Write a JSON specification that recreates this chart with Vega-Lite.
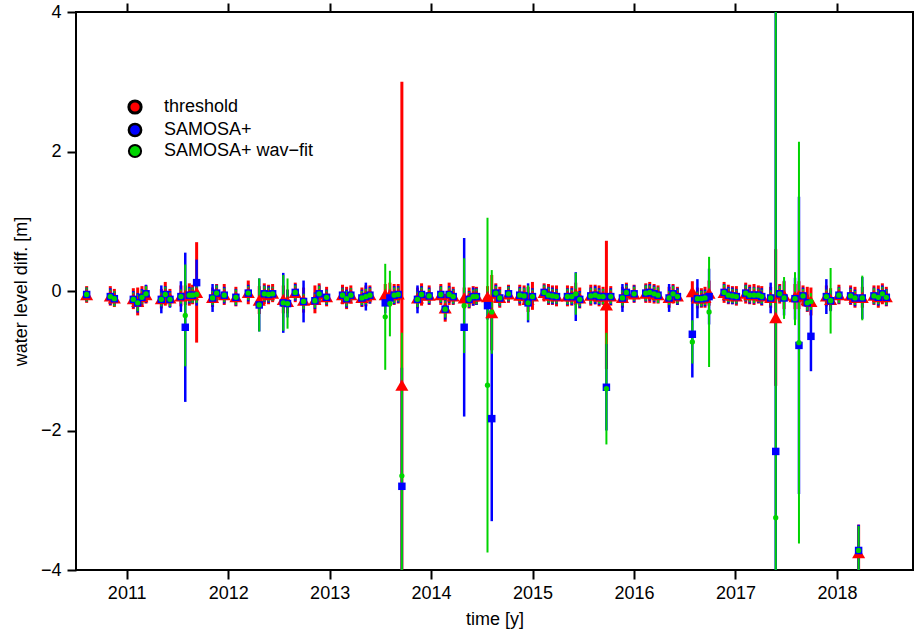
{
"$schema":"https://vega.github.io/schema/vega-lite/v6.json",
"width":837,"height":558,
"autosize":{"type":"none"},
"padding":{"left":76,"top":12,"right":2,"bottom":68},
"background":"white",
"config":{"view":{"stroke":"black","strokeWidth":2},"font":"Liberation Sans",
 "axis":{"labelFont":"Liberation Sans","titleFont":"Liberation Sans","labelFontSize":18,"titleFontSize":18,"titleFontWeight":"normal","labelColor":"black","titleColor":"black","tickColor":"black","tickWidth":2,"tickSize":9,"domain":false,"grid":false}},
"data":{"values":[
{"t":2010.605,"s":"threshold","v":-0.05,"lo":-0.17,"hi":0.07},
{"t":2010.838,"s":"threshold","v":-0.07,"lo":-0.21,"hi":0.07},
{"t":2010.878,"s":"threshold","v":-0.10,"lo":-0.23,"hi":0.03},
{"t":2011.065,"s":"threshold","v":-0.11,"lo":-0.26,"hi":0.04},
{"t":2011.108,"s":"threshold","v":-0.15,"lo":-0.35,"hi":0.05},
{"t":2011.150,"s":"threshold","v":-0.08,"lo":-0.23,"hi":0.07},
{"t":2011.190,"s":"threshold","v":-0.05,"lo":-0.18,"hi":0.08},
{"t":2011.341,"s":"threshold","v":-0.11,"lo":-0.25,"hi":0.03},
{"t":2011.380,"s":"threshold","v":-0.04,"lo":-0.21,"hi":0.13},
{"t":2011.426,"s":"threshold","v":-0.10,"lo":-0.23,"hi":0.03},
{"t":2011.534,"s":"threshold","v":-0.07,"lo":-0.22,"hi":0.08},
{"t":2011.577,"s":"threshold","v":-0.06,"lo":-0.20,"hi":0.08},
{"t":2011.617,"s":"threshold","v":-0.05,"lo":-0.21,"hi":0.11},
{"t":2011.649,"s":"threshold","v":-0.05,"lo":-0.19,"hi":0.09},
{"t":2011.689,"s":"threshold","v":-0.02,"lo":-0.74,"hi":0.70},
{"t":2011.846,"s":"threshold","v":-0.09,"lo":-0.23,"hi":0.05},
{"t":2011.886,"s":"threshold","v":-0.03,"lo":-0.16,"hi":0.10},
{"t":2011.961,"s":"threshold","v":-0.05,"lo":-0.20,"hi":0.10},
{"t":2012.076,"s":"threshold","v":-0.08,"lo":-0.22,"hi":0.06},
{"t":2012.198,"s":"threshold","v":-0.02,"lo":-0.19,"hi":0.15},
{"t":2012.306,"s":"threshold","v":-0.13,"lo":-0.33,"hi":0.07},
{"t":2012.356,"s":"threshold","v":-0.04,"lo":-0.19,"hi":0.11},
{"t":2012.398,"s":"threshold","v":-0.05,"lo":-0.19,"hi":0.09},
{"t":2012.438,"s":"threshold","v":-0.03,"lo":-0.16,"hi":0.10},
{"t":2012.543,"s":"threshold","v":-0.12,"lo":-0.32,"hi":0.08},
{"t":2012.585,"s":"threshold","v":-0.15,"lo":-0.32,"hi":0.02},
{"t":2012.661,"s":"threshold","v":-0.02,"lo":-0.16,"hi":0.12},
{"t":2012.743,"s":"threshold","v":-0.13,"lo":-0.31,"hi":0.05},
{"t":2012.855,"s":"threshold","v":-0.12,"lo":-0.32,"hi":0.08},
{"t":2012.897,"s":"threshold","v":-0.04,"lo":-0.19,"hi":0.11},
{"t":2012.970,"s":"threshold","v":-0.08,"lo":-0.22,"hi":0.06},
{"t":2013.127,"s":"threshold","v":-0.05,"lo":-0.19,"hi":0.09},
{"t":2013.167,"s":"threshold","v":-0.10,"lo":-0.26,"hi":0.06},
{"t":2013.209,"s":"threshold","v":-0.05,"lo":-0.18,"hi":0.08},
{"t":2013.318,"s":"threshold","v":-0.09,"lo":-0.23,"hi":0.05},
{"t":2013.357,"s":"threshold","v":-0.07,"lo":-0.22,"hi":0.08},
{"t":2013.397,"s":"threshold","v":-0.05,"lo":-0.18,"hi":0.08},
{"t":2013.548,"s":"threshold","v":-0.05,"lo":-0.20,"hi":0.10},
{"t":2013.594,"s":"threshold","v":-0.05,"lo":-0.22,"hi":0.12},
{"t":2013.636,"s":"threshold","v":-0.05,"lo":-0.20,"hi":0.10},
{"t":2013.676,"s":"threshold","v":-0.04,"lo":-0.18,"hi":0.10},
{"t":2013.712,"s":"threshold","v":-1.35,"lo":-5.70,"hi":3.00},
{"t":2013.866,"s":"threshold","v":-0.10,"lo":-0.25,"hi":0.05},
{"t":2013.906,"s":"threshold","v":-0.05,"lo":-0.21,"hi":0.11},
{"t":2013.981,"s":"threshold","v":-0.06,"lo":-0.20,"hi":0.08},
{"t":2014.096,"s":"threshold","v":-0.05,"lo":-0.20,"hi":0.10},
{"t":2014.139,"s":"threshold","v":-0.24,"lo":-0.44,"hi":-0.04},
{"t":2014.178,"s":"threshold","v":-0.04,"lo":-0.20,"hi":0.12},
{"t":2014.218,"s":"threshold","v":-0.07,"lo":-0.20,"hi":0.06},
{"t":2014.326,"s":"threshold","v":-0.10,"lo":-0.25,"hi":0.05},
{"t":2014.375,"s":"threshold","v":-0.10,"lo":-0.25,"hi":0.05},
{"t":2014.415,"s":"threshold","v":-0.07,"lo":-0.21,"hi":0.07},
{"t":2014.447,"s":"threshold","v":-0.07,"lo":-0.20,"hi":0.06},
{"t":2014.556,"s":"threshold","v":-0.08,"lo":-0.23,"hi":0.07},
{"t":2014.598,"s":"threshold","v":-0.31,"lo":-0.85,"hi":0.23},
{"t":2014.638,"s":"threshold","v":-0.03,"lo":-0.17,"hi":0.11},
{"t":2014.677,"s":"threshold","v":-0.09,"lo":-0.24,"hi":0.06},
{"t":2014.763,"s":"threshold","v":-0.04,"lo":-0.17,"hi":0.09},
{"t":2014.874,"s":"threshold","v":-0.06,"lo":-0.21,"hi":0.09},
{"t":2014.917,"s":"threshold","v":-0.06,"lo":-0.20,"hi":0.08},
{"t":2014.956,"s":"threshold","v":-0.12,"lo":-0.30,"hi":0.06},
{"t":2014.999,"s":"threshold","v":-0.07,"lo":-0.27,"hi":0.13},
{"t":2015.114,"s":"threshold","v":-0.02,"lo":-0.15,"hi":0.11},
{"t":2015.157,"s":"threshold","v":-0.05,"lo":-0.20,"hi":0.10},
{"t":2015.196,"s":"threshold","v":-0.06,"lo":-0.20,"hi":0.08},
{"t":2015.236,"s":"threshold","v":-0.07,"lo":-0.22,"hi":0.08},
{"t":2015.344,"s":"threshold","v":-0.07,"lo":-0.22,"hi":0.08},
{"t":2015.387,"s":"threshold","v":-0.07,"lo":-0.21,"hi":0.07},
{"t":2015.426,"s":"threshold","v":-0.04,"lo":-0.20,"hi":0.12},
{"t":2015.465,"s":"threshold","v":-0.10,"lo":-0.25,"hi":0.05},
{"t":2015.574,"s":"threshold","v":-0.06,"lo":-0.21,"hi":0.09},
{"t":2015.617,"s":"threshold","v":-0.05,"lo":-0.19,"hi":0.09},
{"t":2015.656,"s":"threshold","v":-0.07,"lo":-0.22,"hi":0.08},
{"t":2015.695,"s":"threshold","v":-0.07,"lo":-0.20,"hi":0.06},
{"t":2015.728,"s":"threshold","v":-0.20,"lo":-1.12,"hi":0.72},
{"t":2015.771,"s":"threshold","v":-0.07,"lo":-0.21,"hi":0.07},
{"t":2015.886,"s":"threshold","v":-0.09,"lo":-0.24,"hi":0.06},
{"t":2015.925,"s":"threshold","v":-0.02,"lo":-0.16,"hi":0.12},
{"t":2016.001,"s":"threshold","v":-0.04,"lo":-0.17,"hi":0.09},
{"t":2016.116,"s":"threshold","v":-0.03,"lo":-0.17,"hi":0.11},
{"t":2016.155,"s":"threshold","v":-0.02,"lo":-0.17,"hi":0.13},
{"t":2016.198,"s":"threshold","v":-0.04,"lo":-0.18,"hi":0.10},
{"t":2016.237,"s":"threshold","v":-0.05,"lo":-0.18,"hi":0.08},
{"t":2016.346,"s":"threshold","v":-0.09,"lo":-0.24,"hi":0.06},
{"t":2016.385,"s":"threshold","v":-0.04,"lo":-0.18,"hi":0.10},
{"t":2016.428,"s":"threshold","v":-0.07,"lo":-0.20,"hi":0.06},
{"t":2016.575,"s":"threshold","v":-0.01,"lo":-0.16,"hi":0.14},
{"t":2016.625,"s":"threshold","v":-0.10,"lo":-0.25,"hi":0.05},
{"t":2016.664,"s":"threshold","v":-0.10,"lo":-0.24,"hi":0.04},
{"t":2016.700,"s":"threshold","v":-0.09,"lo":-0.24,"hi":0.06},
{"t":2016.740,"s":"threshold","v":-0.03,"lo":-0.21,"hi":0.15},
{"t":2016.888,"s":"threshold","v":-0.02,"lo":-0.17,"hi":0.13},
{"t":2016.930,"s":"threshold","v":-0.05,"lo":-0.19,"hi":0.09},
{"t":2016.970,"s":"threshold","v":-0.06,"lo":-0.19,"hi":0.07},
{"t":2017.009,"s":"threshold","v":-0.07,"lo":-0.21,"hi":0.07},
{"t":2017.101,"s":"threshold","v":-0.03,"lo":-0.18,"hi":0.12},
{"t":2017.140,"s":"threshold","v":-0.05,"lo":-0.19,"hi":0.09},
{"t":2017.183,"s":"threshold","v":-0.05,"lo":-0.20,"hi":0.10},
{"t":2017.226,"s":"threshold","v":-0.05,"lo":-0.18,"hi":0.08},
{"t":2017.259,"s":"threshold","v":-0.07,"lo":-0.21,"hi":0.07},
{"t":2017.347,"s":"threshold","v":-0.09,"lo":-0.24,"hi":0.06},
{"t":2017.397,"s":"threshold","v":-0.38,"lo":-1.36,"hi":0.60},
{"t":2017.436,"s":"threshold","v":-0.04,"lo":-0.18,"hi":0.10},
{"t":2017.479,"s":"threshold","v":-0.06,"lo":-0.26,"hi":0.14},
{"t":2017.587,"s":"threshold","v":-0.08,"lo":-0.26,"hi":0.10},
{"t":2017.626,"s":"threshold","v":-0.06,"lo":-0.26,"hi":0.14},
{"t":2017.666,"s":"threshold","v":-0.07,"lo":-0.22,"hi":0.08},
{"t":2017.708,"s":"threshold","v":-0.12,"lo":-0.30,"hi":0.06},
{"t":2017.744,"s":"threshold","v":-0.15,"lo":-0.35,"hi":0.05},
{"t":2017.896,"s":"threshold","v":-0.07,"lo":-0.22,"hi":0.08},
{"t":2017.938,"s":"threshold","v":-0.12,"lo":-0.28,"hi":0.04},
{"t":2018.020,"s":"threshold","v":-0.05,"lo":-0.19,"hi":0.09},
{"t":2018.135,"s":"threshold","v":-0.06,"lo":-0.20,"hi":0.08},
{"t":2018.178,"s":"threshold","v":-0.09,"lo":-0.24,"hi":0.06},
{"t":2018.214,"s":"threshold","v":-3.75,"lo":-4.15,"hi":-3.35},
{"t":2018.250,"s":"threshold","v":-0.09,"lo":-0.24,"hi":0.06},
{"t":2018.365,"s":"threshold","v":-0.06,"lo":-0.20,"hi":0.08},
{"t":2018.408,"s":"threshold","v":-0.08,"lo":-0.24,"hi":0.08},
{"t":2018.448,"s":"threshold","v":-0.04,"lo":-0.19,"hi":0.11},
{"t":2018.487,"s":"threshold","v":-0.08,"lo":-0.22,"hi":0.06},
{"t":2010.605,"s":"SAMOSA+","v":-0.05,"lo":-0.15,"hi":0.05},
{"t":2010.838,"s":"SAMOSA+","v":-0.08,"lo":-0.20,"hi":0.04},
{"t":2010.878,"s":"SAMOSA+","v":-0.11,"lo":-0.21,"hi":-0.01},
{"t":2011.065,"s":"SAMOSA+","v":-0.12,"lo":-0.24,"hi":0.00},
{"t":2011.108,"s":"SAMOSA+","v":-0.17,"lo":-0.31,"hi":-0.03},
{"t":2011.150,"s":"SAMOSA+","v":-0.09,"lo":-0.21,"hi":0.03},
{"t":2011.190,"s":"SAMOSA+","v":-0.04,"lo":-0.17,"hi":0.09},
{"t":2011.341,"s":"SAMOSA+","v":-0.12,"lo":-0.32,"hi":0.08},
{"t":2011.380,"s":"SAMOSA+","v":-0.05,"lo":-0.17,"hi":0.07},
{"t":2011.426,"s":"SAMOSA+","v":-0.12,"lo":-0.24,"hi":0.00},
{"t":2011.534,"s":"SAMOSA+","v":-0.08,"lo":-0.30,"hi":0.14},
{"t":2011.577,"s":"SAMOSA+","v":-0.52,"lo":-1.59,"hi":0.55},
{"t":2011.617,"s":"SAMOSA+","v":-0.06,"lo":-0.18,"hi":0.06},
{"t":2011.649,"s":"SAMOSA+","v":-0.06,"lo":-0.17,"hi":0.05},
{"t":2011.689,"s":"SAMOSA+","v":0.12,"lo":-0.21,"hi":0.45},
{"t":2011.846,"s":"SAMOSA+","v":-0.10,"lo":-0.30,"hi":0.10},
{"t":2011.886,"s":"SAMOSA+","v":-0.03,"lo":-0.15,"hi":0.09},
{"t":2011.961,"s":"SAMOSA+","v":-0.06,"lo":-0.18,"hi":0.06},
{"t":2012.076,"s":"SAMOSA+","v":-0.09,"lo":-0.21,"hi":0.03},
{"t":2012.198,"s":"SAMOSA+","v":-0.03,"lo":-0.15,"hi":0.09},
{"t":2012.306,"s":"SAMOSA+","v":-0.20,"lo":-0.58,"hi":0.18},
{"t":2012.356,"s":"SAMOSA+","v":-0.04,"lo":-0.16,"hi":0.08},
{"t":2012.398,"s":"SAMOSA+","v":-0.05,"lo":-0.17,"hi":0.07},
{"t":2012.438,"s":"SAMOSA+","v":-0.04,"lo":-0.14,"hi":0.06},
{"t":2012.543,"s":"SAMOSA+","v":-0.17,"lo":-0.60,"hi":0.26},
{"t":2012.585,"s":"SAMOSA+","v":-0.18,"lo":-0.38,"hi":0.02},
{"t":2012.661,"s":"SAMOSA+","v":-0.02,"lo":-0.14,"hi":0.10},
{"t":2012.743,"s":"SAMOSA+","v":-0.15,"lo":-0.45,"hi":0.15},
{"t":2012.855,"s":"SAMOSA+","v":-0.14,"lo":-0.26,"hi":-0.02},
{"t":2012.897,"s":"SAMOSA+","v":-0.04,"lo":-0.16,"hi":0.08},
{"t":2012.970,"s":"SAMOSA+","v":-0.09,"lo":-0.20,"hi":0.02},
{"t":2013.127,"s":"SAMOSA+","v":-0.06,"lo":-0.17,"hi":0.05},
{"t":2013.167,"s":"SAMOSA+","v":-0.11,"lo":-0.24,"hi":0.02},
{"t":2013.209,"s":"SAMOSA+","v":-0.06,"lo":-0.16,"hi":0.04},
{"t":2013.318,"s":"SAMOSA+","v":-0.10,"lo":-0.22,"hi":0.02},
{"t":2013.357,"s":"SAMOSA+","v":-0.08,"lo":-0.28,"hi":0.12},
{"t":2013.397,"s":"SAMOSA+","v":-0.06,"lo":-0.18,"hi":0.06},
{"t":2013.548,"s":"SAMOSA+","v":-0.17,"lo":-0.32,"hi":-0.02},
{"t":2013.594,"s":"SAMOSA+","v":-0.10,"lo":-0.22,"hi":0.02},
{"t":2013.636,"s":"SAMOSA+","v":-0.06,"lo":-0.19,"hi":0.07},
{"t":2013.676,"s":"SAMOSA+","v":-0.05,"lo":-0.17,"hi":0.07},
{"t":2013.712,"s":"SAMOSA+","v":-2.80,"lo":-4.50,"hi":-1.10},
{"t":2013.866,"s":"SAMOSA+","v":-0.12,"lo":-0.32,"hi":0.08},
{"t":2013.906,"s":"SAMOSA+","v":-0.05,"lo":-0.17,"hi":0.07},
{"t":2013.981,"s":"SAMOSA+","v":-0.07,"lo":-0.19,"hi":0.05},
{"t":2014.096,"s":"SAMOSA+","v":-0.05,"lo":-0.17,"hi":0.07},
{"t":2014.139,"s":"SAMOSA+","v":-0.26,"lo":-0.41,"hi":-0.11},
{"t":2014.178,"s":"SAMOSA+","v":-0.05,"lo":-0.17,"hi":0.07},
{"t":2014.218,"s":"SAMOSA+","v":-0.08,"lo":-0.19,"hi":0.03},
{"t":2014.326,"s":"SAMOSA+","v":-0.52,"lo":-1.80,"hi":0.76},
{"t":2014.375,"s":"SAMOSA+","v":-0.12,"lo":-0.24,"hi":0.00},
{"t":2014.415,"s":"SAMOSA+","v":-0.08,"lo":-0.21,"hi":0.05},
{"t":2014.447,"s":"SAMOSA+","v":-0.08,"lo":-0.20,"hi":0.04},
{"t":2014.556,"s":"SAMOSA+","v":-0.21,"lo":-0.41,"hi":-0.01},
{"t":2014.598,"s":"SAMOSA+","v":-1.83,"lo":-3.30,"hi":-0.36},
{"t":2014.638,"s":"SAMOSA+","v":-0.03,"lo":-0.15,"hi":0.09},
{"t":2014.677,"s":"SAMOSA+","v":-0.10,"lo":-0.22,"hi":0.02},
{"t":2014.763,"s":"SAMOSA+","v":-0.04,"lo":-0.15,"hi":0.07},
{"t":2014.874,"s":"SAMOSA+","v":-0.06,"lo":-0.18,"hi":0.06},
{"t":2014.917,"s":"SAMOSA+","v":-0.07,"lo":-0.19,"hi":0.05},
{"t":2014.956,"s":"SAMOSA+","v":-0.17,"lo":-0.45,"hi":0.11},
{"t":2014.999,"s":"SAMOSA+","v":-0.08,"lo":-0.20,"hi":0.04},
{"t":2015.114,"s":"SAMOSA+","v":-0.02,"lo":-0.13,"hi":0.09},
{"t":2015.157,"s":"SAMOSA+","v":-0.06,"lo":-0.18,"hi":0.06},
{"t":2015.196,"s":"SAMOSA+","v":-0.07,"lo":-0.19,"hi":0.05},
{"t":2015.236,"s":"SAMOSA+","v":-0.08,"lo":-0.19,"hi":0.03},
{"t":2015.344,"s":"SAMOSA+","v":-0.08,"lo":-0.20,"hi":0.04},
{"t":2015.387,"s":"SAMOSA+","v":-0.08,"lo":-0.20,"hi":0.04},
{"t":2015.426,"s":"SAMOSA+","v":-0.08,"lo":-0.43,"hi":0.27},
{"t":2015.465,"s":"SAMOSA+","v":-0.12,"lo":-0.24,"hi":0.00},
{"t":2015.574,"s":"SAMOSA+","v":-0.07,"lo":-0.19,"hi":0.05},
{"t":2015.617,"s":"SAMOSA+","v":-0.06,"lo":-0.19,"hi":0.07},
{"t":2015.656,"s":"SAMOSA+","v":-0.08,"lo":-0.20,"hi":0.04},
{"t":2015.695,"s":"SAMOSA+","v":-0.08,"lo":-0.19,"hi":0.03},
{"t":2015.728,"s":"SAMOSA+","v":-1.38,"lo":-2.00,"hi":-0.76},
{"t":2015.771,"s":"SAMOSA+","v":-0.08,"lo":-0.20,"hi":0.04},
{"t":2015.886,"s":"SAMOSA+","v":-0.10,"lo":-0.30,"hi":0.10},
{"t":2015.925,"s":"SAMOSA+","v":-0.02,"lo":-0.14,"hi":0.10},
{"t":2016.001,"s":"SAMOSA+","v":-0.04,"lo":-0.16,"hi":0.08},
{"t":2016.116,"s":"SAMOSA+","v":-0.03,"lo":-0.15,"hi":0.09},
{"t":2016.155,"s":"SAMOSA+","v":-0.02,"lo":-0.14,"hi":0.10},
{"t":2016.198,"s":"SAMOSA+","v":-0.04,"lo":-0.16,"hi":0.08},
{"t":2016.237,"s":"SAMOSA+","v":-0.06,"lo":-0.17,"hi":0.05},
{"t":2016.346,"s":"SAMOSA+","v":-0.10,"lo":-0.30,"hi":0.10},
{"t":2016.385,"s":"SAMOSA+","v":-0.04,"lo":-0.16,"hi":0.08},
{"t":2016.428,"s":"SAMOSA+","v":-0.08,"lo":-0.20,"hi":0.04},
{"t":2016.575,"s":"SAMOSA+","v":-0.62,"lo":-1.24,"hi":0.00},
{"t":2016.625,"s":"SAMOSA+","v":-0.11,"lo":-0.39,"hi":0.17},
{"t":2016.664,"s":"SAMOSA+","v":-0.11,"lo":-0.23,"hi":0.01},
{"t":2016.700,"s":"SAMOSA+","v":-0.10,"lo":-0.22,"hi":0.02},
{"t":2016.740,"s":"SAMOSA+","v":-0.08,"lo":-0.48,"hi":0.32},
{"t":2016.888,"s":"SAMOSA+","v":-0.02,"lo":-0.14,"hi":0.10},
{"t":2016.930,"s":"SAMOSA+","v":-0.06,"lo":-0.18,"hi":0.06},
{"t":2016.970,"s":"SAMOSA+","v":-0.07,"lo":-0.19,"hi":0.05},
{"t":2017.009,"s":"SAMOSA+","v":-0.08,"lo":-0.19,"hi":0.03},
{"t":2017.101,"s":"SAMOSA+","v":-0.03,"lo":-0.15,"hi":0.09},
{"t":2017.140,"s":"SAMOSA+","v":-0.06,"lo":-0.18,"hi":0.06},
{"t":2017.183,"s":"SAMOSA+","v":-0.06,"lo":-0.18,"hi":0.06},
{"t":2017.226,"s":"SAMOSA+","v":-0.06,"lo":-0.17,"hi":0.05},
{"t":2017.259,"s":"SAMOSA+","v":-0.08,"lo":-0.20,"hi":0.04},
{"t":2017.347,"s":"SAMOSA+","v":-0.10,"lo":-0.32,"hi":0.12},
{"t":2017.397,"s":"SAMOSA+","v":-2.30,"lo":-9.30,"hi":4.70},
{"t":2017.436,"s":"SAMOSA+","v":-0.04,"lo":-0.16,"hi":0.08},
{"t":2017.479,"s":"SAMOSA+","v":-0.10,"lo":-0.35,"hi":0.15},
{"t":2017.587,"s":"SAMOSA+","v":-0.11,"lo":-0.41,"hi":0.19},
{"t":2017.626,"s":"SAMOSA+","v":-0.78,"lo":-2.91,"hi":1.35},
{"t":2017.666,"s":"SAMOSA+","v":-0.07,"lo":-0.19,"hi":0.05},
{"t":2017.708,"s":"SAMOSA+","v":-0.17,"lo":-0.29,"hi":-0.05},
{"t":2017.744,"s":"SAMOSA+","v":-0.65,"lo":-1.15,"hi":-0.15},
{"t":2017.896,"s":"SAMOSA+","v":-0.08,"lo":-0.33,"hi":0.17},
{"t":2017.938,"s":"SAMOSA+","v":-0.14,"lo":-0.29,"hi":0.01},
{"t":2018.020,"s":"SAMOSA+","v":-0.06,"lo":-0.18,"hi":0.06},
{"t":2018.135,"s":"SAMOSA+","v":-0.07,"lo":-0.19,"hi":0.05},
{"t":2018.178,"s":"SAMOSA+","v":-0.10,"lo":-0.22,"hi":0.02},
{"t":2018.214,"s":"SAMOSA+","v":-3.72,"lo":-4.09,"hi":-3.35},
{"t":2018.250,"s":"SAMOSA+","v":-0.10,"lo":-0.40,"hi":0.20},
{"t":2018.365,"s":"SAMOSA+","v":-0.07,"lo":-0.19,"hi":0.05},
{"t":2018.408,"s":"SAMOSA+","v":-0.09,"lo":-0.21,"hi":0.03},
{"t":2018.448,"s":"SAMOSA+","v":-0.04,"lo":-0.16,"hi":0.08},
{"t":2018.487,"s":"SAMOSA+","v":-0.09,"lo":-0.21,"hi":0.03},
{"t":2010.605,"s":"SAMOSA+ wav−fit","v":-0.05,"lo":-0.15,"hi":0.05},
{"t":2010.838,"s":"SAMOSA+ wav−fit","v":-0.08,"lo":-0.18,"hi":0.02},
{"t":2010.878,"s":"SAMOSA+ wav−fit","v":-0.11,"lo":-0.22,"hi":0.00},
{"t":2011.065,"s":"SAMOSA+ wav−fit","v":-0.12,"lo":-0.22,"hi":-0.02},
{"t":2011.108,"s":"SAMOSA+ wav−fit","v":-0.17,"lo":-0.29,"hi":-0.05},
{"t":2011.150,"s":"SAMOSA+ wav−fit","v":-0.09,"lo":-0.19,"hi":0.01},
{"t":2011.190,"s":"SAMOSA+ wav−fit","v":-0.04,"lo":-0.15,"hi":0.07},
{"t":2011.341,"s":"SAMOSA+ wav−fit","v":-0.12,"lo":-0.22,"hi":-0.02},
{"t":2011.380,"s":"SAMOSA+ wav−fit","v":-0.05,"lo":-0.16,"hi":0.06},
{"t":2011.426,"s":"SAMOSA+ wav−fit","v":-0.12,"lo":-0.22,"hi":-0.02},
{"t":2011.534,"s":"SAMOSA+ wav−fit","v":-0.08,"lo":-0.18,"hi":0.02},
{"t":2011.577,"s":"SAMOSA+ wav−fit","v":-0.35,"lo":-1.08,"hi":0.38},
{"t":2011.617,"s":"SAMOSA+ wav−fit","v":-0.06,"lo":-0.16,"hi":0.04},
{"t":2011.649,"s":"SAMOSA+ wav−fit","v":-0.06,"lo":-0.17,"hi":0.05},
{"t":2011.689,"s":"SAMOSA+ wav−fit","v":-0.05,"lo":-0.17,"hi":0.07},
{"t":2011.846,"s":"SAMOSA+ wav−fit","v":-0.10,"lo":-0.20,"hi":0.00},
{"t":2011.886,"s":"SAMOSA+ wav−fit","v":-0.03,"lo":-0.14,"hi":0.08},
{"t":2011.961,"s":"SAMOSA+ wav−fit","v":-0.06,"lo":-0.16,"hi":0.04},
{"t":2012.076,"s":"SAMOSA+ wav−fit","v":-0.09,"lo":-0.20,"hi":0.02},
{"t":2012.198,"s":"SAMOSA+ wav−fit","v":-0.03,"lo":-0.13,"hi":0.07},
{"t":2012.306,"s":"SAMOSA+ wav−fit","v":-0.20,"lo":-0.58,"hi":0.18},
{"t":2012.356,"s":"SAMOSA+ wav−fit","v":-0.04,"lo":-0.15,"hi":0.07},
{"t":2012.398,"s":"SAMOSA+ wav−fit","v":-0.05,"lo":-0.15,"hi":0.05},
{"t":2012.438,"s":"SAMOSA+ wav−fit","v":-0.04,"lo":-0.14,"hi":0.06},
{"t":2012.543,"s":"SAMOSA+ wav−fit","v":-0.17,"lo":-0.57,"hi":0.23},
{"t":2012.585,"s":"SAMOSA+ wav−fit","v":-0.18,"lo":-0.54,"hi":0.18},
{"t":2012.661,"s":"SAMOSA+ wav−fit","v":-0.02,"lo":-0.12,"hi":0.08},
{"t":2012.743,"s":"SAMOSA+ wav−fit","v":-0.15,"lo":-0.26,"hi":-0.04},
{"t":2012.855,"s":"SAMOSA+ wav−fit","v":-0.14,"lo":-0.24,"hi":-0.04},
{"t":2012.897,"s":"SAMOSA+ wav−fit","v":-0.04,"lo":-0.15,"hi":0.07},
{"t":2012.970,"s":"SAMOSA+ wav−fit","v":-0.09,"lo":-0.19,"hi":0.01},
{"t":2013.127,"s":"SAMOSA+ wav−fit","v":-0.06,"lo":-0.16,"hi":0.04},
{"t":2013.167,"s":"SAMOSA+ wav−fit","v":-0.11,"lo":-0.22,"hi":0.00},
{"t":2013.209,"s":"SAMOSA+ wav−fit","v":-0.06,"lo":-0.16,"hi":0.04},
{"t":2013.318,"s":"SAMOSA+ wav−fit","v":-0.10,"lo":-0.20,"hi":0.00},
{"t":2013.357,"s":"SAMOSA+ wav−fit","v":-0.08,"lo":-0.19,"hi":0.03},
{"t":2013.397,"s":"SAMOSA+ wav−fit","v":-0.06,"lo":-0.16,"hi":0.04},
{"t":2013.548,"s":"SAMOSA+ wav−fit","v":-0.37,"lo":-1.13,"hi":0.39},
{"t":2013.594,"s":"SAMOSA+ wav−fit","v":-0.18,"lo":-0.65,"hi":0.29},
{"t":2013.636,"s":"SAMOSA+ wav−fit","v":-0.06,"lo":-0.17,"hi":0.05},
{"t":2013.676,"s":"SAMOSA+ wav−fit","v":-0.05,"lo":-0.15,"hi":0.05},
{"t":2013.712,"s":"SAMOSA+ wav−fit","v":-2.65,"lo":-4.70,"hi":-0.60},
{"t":2013.866,"s":"SAMOSA+ wav−fit","v":-0.12,"lo":-0.23,"hi":-0.01},
{"t":2013.906,"s":"SAMOSA+ wav−fit","v":-0.05,"lo":-0.15,"hi":0.05},
{"t":2013.981,"s":"SAMOSA+ wav−fit","v":-0.07,"lo":-0.17,"hi":0.03},
{"t":2014.096,"s":"SAMOSA+ wav−fit","v":-0.05,"lo":-0.16,"hi":0.06},
{"t":2014.139,"s":"SAMOSA+ wav−fit","v":-0.26,"lo":-0.38,"hi":-0.14},
{"t":2014.178,"s":"SAMOSA+ wav−fit","v":-0.05,"lo":-0.15,"hi":0.05},
{"t":2014.218,"s":"SAMOSA+ wav−fit","v":-0.08,"lo":-0.18,"hi":0.02},
{"t":2014.326,"s":"SAMOSA+ wav−fit","v":-0.21,"lo":-0.89,"hi":0.47},
{"t":2014.375,"s":"SAMOSA+ wav−fit","v":-0.12,"lo":-0.23,"hi":-0.01},
{"t":2014.415,"s":"SAMOSA+ wav−fit","v":-0.08,"lo":-0.18,"hi":0.02},
{"t":2014.447,"s":"SAMOSA+ wav−fit","v":-0.08,"lo":-0.19,"hi":0.03},
{"t":2014.556,"s":"SAMOSA+ wav−fit","v":-1.35,"lo":-3.75,"hi":1.05},
{"t":2014.598,"s":"SAMOSA+ wav−fit","v":-0.30,"lo":-0.90,"hi":0.30},
{"t":2014.638,"s":"SAMOSA+ wav−fit","v":-0.03,"lo":-0.13,"hi":0.07},
{"t":2014.677,"s":"SAMOSA+ wav−fit","v":-0.10,"lo":-0.21,"hi":0.01},
{"t":2014.763,"s":"SAMOSA+ wav−fit","v":-0.04,"lo":-0.14,"hi":0.06},
{"t":2014.874,"s":"SAMOSA+ wav−fit","v":-0.06,"lo":-0.16,"hi":0.04},
{"t":2014.917,"s":"SAMOSA+ wav−fit","v":-0.07,"lo":-0.18,"hi":0.04},
{"t":2014.956,"s":"SAMOSA+ wav−fit","v":-0.17,"lo":-0.42,"hi":0.08},
{"t":2014.999,"s":"SAMOSA+ wav−fit","v":-0.08,"lo":-0.18,"hi":0.02},
{"t":2015.114,"s":"SAMOSA+ wav−fit","v":-0.02,"lo":-0.12,"hi":0.08},
{"t":2015.157,"s":"SAMOSA+ wav−fit","v":-0.06,"lo":-0.17,"hi":0.05},
{"t":2015.196,"s":"SAMOSA+ wav−fit","v":-0.07,"lo":-0.17,"hi":0.03},
{"t":2015.236,"s":"SAMOSA+ wav−fit","v":-0.08,"lo":-0.18,"hi":0.02},
{"t":2015.344,"s":"SAMOSA+ wav−fit","v":-0.08,"lo":-0.19,"hi":0.03},
{"t":2015.387,"s":"SAMOSA+ wav−fit","v":-0.08,"lo":-0.18,"hi":0.02},
{"t":2015.426,"s":"SAMOSA+ wav−fit","v":-0.04,"lo":-0.34,"hi":0.26},
{"t":2015.465,"s":"SAMOSA+ wav−fit","v":-0.12,"lo":-0.22,"hi":-0.02},
{"t":2015.574,"s":"SAMOSA+ wav−fit","v":-0.07,"lo":-0.18,"hi":0.04},
{"t":2015.617,"s":"SAMOSA+ wav−fit","v":-0.06,"lo":-0.16,"hi":0.04},
{"t":2015.656,"s":"SAMOSA+ wav−fit","v":-0.08,"lo":-0.18,"hi":0.02},
{"t":2015.695,"s":"SAMOSA+ wav−fit","v":-0.08,"lo":-0.19,"hi":0.03},
{"t":2015.728,"s":"SAMOSA+ wav−fit","v":-1.40,"lo":-2.20,"hi":-0.60},
{"t":2015.771,"s":"SAMOSA+ wav−fit","v":-0.08,"lo":-0.18,"hi":0.02},
{"t":2015.886,"s":"SAMOSA+ wav−fit","v":-0.10,"lo":-0.21,"hi":0.01},
{"t":2015.925,"s":"SAMOSA+ wav−fit","v":-0.02,"lo":-0.12,"hi":0.08},
{"t":2016.001,"s":"SAMOSA+ wav−fit","v":-0.04,"lo":-0.14,"hi":0.06},
{"t":2016.116,"s":"SAMOSA+ wav−fit","v":-0.03,"lo":-0.14,"hi":0.08},
{"t":2016.155,"s":"SAMOSA+ wav−fit","v":-0.02,"lo":-0.12,"hi":0.08},
{"t":2016.198,"s":"SAMOSA+ wav−fit","v":-0.04,"lo":-0.14,"hi":0.06},
{"t":2016.237,"s":"SAMOSA+ wav−fit","v":-0.06,"lo":-0.17,"hi":0.05},
{"t":2016.346,"s":"SAMOSA+ wav−fit","v":-0.10,"lo":-0.20,"hi":0.00},
{"t":2016.385,"s":"SAMOSA+ wav−fit","v":-0.04,"lo":-0.15,"hi":0.07},
{"t":2016.428,"s":"SAMOSA+ wav−fit","v":-0.08,"lo":-0.18,"hi":0.02},
{"t":2016.575,"s":"SAMOSA+ wav−fit","v":-0.73,"lo":-1.04,"hi":-0.42},
{"t":2016.625,"s":"SAMOSA+ wav−fit","v":-0.11,"lo":-0.21,"hi":-0.01},
{"t":2016.664,"s":"SAMOSA+ wav−fit","v":-0.11,"lo":-0.22,"hi":0.00},
{"t":2016.700,"s":"SAMOSA+ wav−fit","v":-0.10,"lo":-0.20,"hi":0.00},
{"t":2016.740,"s":"SAMOSA+ wav−fit","v":-0.30,"lo":-1.09,"hi":0.49},
{"t":2016.888,"s":"SAMOSA+ wav−fit","v":-0.02,"lo":-0.13,"hi":0.09},
{"t":2016.930,"s":"SAMOSA+ wav−fit","v":-0.06,"lo":-0.16,"hi":0.04},
{"t":2016.970,"s":"SAMOSA+ wav−fit","v":-0.07,"lo":-0.17,"hi":0.03},
{"t":2017.009,"s":"SAMOSA+ wav−fit","v":-0.08,"lo":-0.18,"hi":0.02},
{"t":2017.101,"s":"SAMOSA+ wav−fit","v":-0.03,"lo":-0.14,"hi":0.08},
{"t":2017.140,"s":"SAMOSA+ wav−fit","v":-0.06,"lo":-0.16,"hi":0.04},
{"t":2017.183,"s":"SAMOSA+ wav−fit","v":-0.06,"lo":-0.17,"hi":0.05},
{"t":2017.226,"s":"SAMOSA+ wav−fit","v":-0.06,"lo":-0.16,"hi":0.04},
{"t":2017.259,"s":"SAMOSA+ wav−fit","v":-0.08,"lo":-0.18,"hi":0.02},
{"t":2017.347,"s":"SAMOSA+ wav−fit","v":-0.10,"lo":-0.21,"hi":0.01},
{"t":2017.397,"s":"SAMOSA+ wav−fit","v":-3.25,"lo":-11.25,"hi":4.75},
{"t":2017.436,"s":"SAMOSA+ wav−fit","v":-0.04,"lo":-0.15,"hi":0.07},
{"t":2017.479,"s":"SAMOSA+ wav−fit","v":-0.10,"lo":-0.40,"hi":0.20},
{"t":2017.587,"s":"SAMOSA+ wav−fit","v":-0.11,"lo":-0.49,"hi":0.27},
{"t":2017.626,"s":"SAMOSA+ wav−fit","v":-0.74,"lo":-3.62,"hi":2.14},
{"t":2017.666,"s":"SAMOSA+ wav−fit","v":-0.07,"lo":-0.17,"hi":0.03},
{"t":2017.708,"s":"SAMOSA+ wav−fit","v":-0.17,"lo":-0.28,"hi":-0.06},
{"t":2017.744,"s":"SAMOSA+ wav−fit","v":-0.15,"lo":-0.27,"hi":-0.03},
{"t":2017.896,"s":"SAMOSA+ wav−fit","v":-0.08,"lo":-0.18,"hi":0.02},
{"t":2017.938,"s":"SAMOSA+ wav−fit","v":-0.14,"lo":-0.61,"hi":0.33},
{"t":2018.020,"s":"SAMOSA+ wav−fit","v":-0.06,"lo":-0.17,"hi":0.05},
{"t":2018.135,"s":"SAMOSA+ wav−fit","v":-0.07,"lo":-0.17,"hi":0.03},
{"t":2018.178,"s":"SAMOSA+ wav−fit","v":-0.10,"lo":-0.20,"hi":0.00},
{"t":2018.214,"s":"SAMOSA+ wav−fit","v":-3.72,"lo":-4.07,"hi":-3.37},
{"t":2018.250,"s":"SAMOSA+ wav−fit","v":-0.10,"lo":-0.42,"hi":0.22},
{"t":2018.365,"s":"SAMOSA+ wav−fit","v":-0.07,"lo":-0.18,"hi":0.04},
{"t":2018.408,"s":"SAMOSA+ wav−fit","v":-0.09,"lo":-0.19,"hi":0.01},
{"t":2018.448,"s":"SAMOSA+ wav−fit","v":-0.04,"lo":-0.14,"hi":0.06},
{"t":2018.487,"s":"SAMOSA+ wav−fit","v":-0.09,"lo":-0.20,"hi":0.02}
]},
"resolve":{"axis":{"x":"independent"}},
"layer":[
{"transform":[{"filter":"false"}],
 "mark":{"type":"point","shape":"circle","filled":true,"opacity":1,"strokeWidth":1.5},
 "encoding":{
  "x":{"field":"t","type":"quantitative","scale":{"domain":[2010.5,2018.75],"nice":false,"zero":false},"axis":null},
  "y":{"field":"v","type":"quantitative","scale":{"domain":[-4,4],"nice":false,"zero":false},"axis":{"values":[-4,-2,0,2,4],"title":"water level diff. [m]","labelPadding":6,"titlePadding":10}},
  "fill":{"field":"s","type":"nominal","scale":{"domain":["threshold","SAMOSA+","SAMOSA+ wav−fit"],"range":["#ff0000","#0000ff","#00d400"]},
   "legend":{"orient":"none","legendX":50,"legendY":86,"title":null,"symbolType":"circle","symbolSize":150,"symbolFillColor":"transparent","symbolStrokeWidth":1.5,"symbolOpacity":1,"labelFontSize":18,"labelFont":"Liberation Sans","labelColor":"black","labelOffset":20,"rowPadding":-2}},
  "stroke":{"field":"s","type":"nominal","scale":{"domain":["threshold","SAMOSA+","SAMOSA+ wav−fit"],"range":["#000000","#000000","#000000"]},
   "legend":{"orient":"none","legendX":50,"legendY":86,"title":null,"symbolType":"circle","symbolSize":150,"symbolFillColor":"transparent","symbolStrokeWidth":1.5,"symbolOpacity":1,"labelFontSize":18,"labelFont":"Liberation Sans","labelColor":"black","labelOffset":20,"rowPadding":-2}}
 }},
{"mark":{"type":"rule","clip":true},
 "encoding":{
  "x":{"field":"t","type":"quantitative",
   "axis":{"orient":"top","values":[2011,2012,2013,2014,2015,2016,2017,2018],"labels":false,"title":null}},
  "y":{"field":"lo","type":"quantitative","axis":{"values":[-4,-2,0,2,4],"title":"water level diff. [m]","labelPadding":6,"titlePadding":10}},
  "y2":{"field":"hi"},
  "color":{"field":"s","type":"nominal","scale":{"domain":["threshold","SAMOSA+","SAMOSA+ wav−fit"],"range":["#ff0000","#0000ff","#00d400"]},"legend":null},
  "strokeWidth":{"field":"s","type":"nominal","scale":{"domain":["threshold","SAMOSA+","SAMOSA+ wav−fit"],"range":[3,2,1.5]},"legend":null},
  "opacity":{"field":"s","type":"nominal","scale":{"domain":["threshold","SAMOSA+","SAMOSA+ wav−fit"],"range":[1,1,0.55]},"legend":null}
 }},
{"transform":[{"filter":"datum.s === 'threshold'"}],
 "mark":{"type":"point","shape":"triangle-up","size":170,"filled":true,"opacity":1,"clip":true},
 "encoding":{
  "x":{"field":"t","type":"quantitative","axis":null},
  "y":{"field":"v","type":"quantitative","axis":{"values":[-4,-2,0,2,4],"title":"water level diff. [m]","labelPadding":6,"titlePadding":10}},
  "color":{"field":"s","type":"nominal","legend":null}
 }},
{"transform":[{"filter":"datum.s === 'SAMOSA+'"}],
 "mark":{"type":"point","shape":"square","size":56,"filled":true,"opacity":1,"clip":true},
 "encoding":{
  "x":{"field":"t","type":"quantitative","axis":null},
  "y":{"field":"v","type":"quantitative","axis":{"values":[-4,-2,0,2,4],"title":"water level diff. [m]","labelPadding":6,"titlePadding":10}},
  "color":{"field":"s","type":"nominal","legend":null}
 }},
{"transform":[{"filter":"datum.s === 'SAMOSA+ wav−fit'"}],
 "mark":{"type":"point","shape":"circle","size":28,"filled":true,"opacity":1,"clip":true},
 "encoding":{
  "x":{"field":"t","type":"quantitative",
   "axis":{"orient":"bottom","values":[2011,2012,2013,2014,2015,2016,2017,2018],"format":"d","title":"time [y]","labelPadding":5,"titlePadding":8}},
  "y":{"field":"v","type":"quantitative","axis":{"values":[-4,-2,0,2,4],"title":"water level diff. [m]","labelPadding":6,"titlePadding":10}},
  "color":{"field":"s","type":"nominal","legend":null}
 }}
]
}
